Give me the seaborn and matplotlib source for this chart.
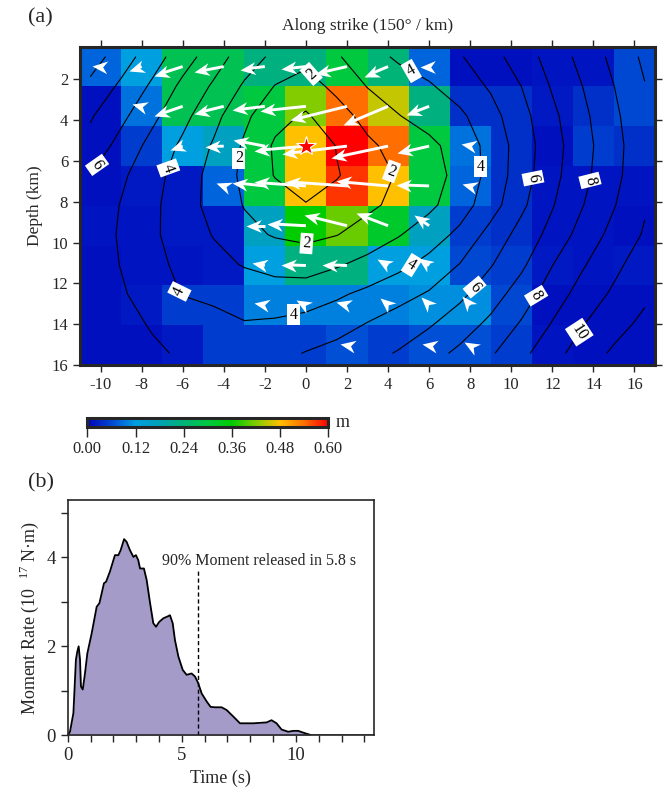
import numpy as np
import matplotlib
matplotlib.use("Agg")
import matplotlib.pyplot as plt
from matplotlib.colors import LinearSegmentedColormap
from matplotlib.ticker import MultipleLocator
from matplotlib.markers import MarkerStyle
from matplotlib.path import Path
from matplotlib.transforms import Affine2D
import seaborn as sns

# subfault grid (2 km along strike, 8 rows down dip)
x_centers = [-10, -8, -6, -4, -2, 0, 2, 4, 6, 8, 10, 12, 14, 16]
depth_top = 0.4
row_height = 1.95

# slip in m, rows from top to bottom
slip = [
    [0.08, 0.12, 0.28, 0.28, 0.23, 0.23, 0.30, 0.24, 0.08, 0.01, 0.01, 0.015, 0.015, 0.06],
    [0.01, 0.09, 0.28, 0.28, 0.30, 0.42, 0.54, 0.45, 0.23, 0.04, 0.04, 0.02, 0.04, 0.06],
    [0.01, 0.05, 0.12, 0.17, 0.30, 0.48, 0.60, 0.54, 0.30, 0.09, 0.04, 0.01, 0.05, 0.04],
    [0.01, 0.02, 0.02, 0.08, 0.30, 0.48, 0.57, 0.48, 0.30, 0.08, 0.04, 0.015, 0.015, 0.015],
    [0.015, 0.015, 0.02, 0.02, 0.17, 0.36, 0.41, 0.32, 0.17, 0.05, 0.04, 0.015, 0.015, 0.01],
    [0.01, 0.015, 0.015, 0.02, 0.12, 0.23, 0.23, 0.12, 0.12, 0.06, 0.05, 0.02, 0.015, 0.02],
    [0.01, 0.02, 0.05, 0.05, 0.10, 0.10, 0.10, 0.10, 0.11, 0.11, 0.06, 0.01, 0.01, 0.01],
    [0.01, 0.01, 0.02, 0.05, 0.05, 0.05, 0.065, 0.05, 0.065, 0.065, 0.05, 0.015, 0.01, 0.01],
]

# rake in degrees (nan = no vector drawn)
nan = np.nan
rake = [
    [175, 198, 198, 191, 187, 186, 193, 203, 180, nan, nan, nan, nan, nan],
    [nan, 165, 199, 194, 187, 186, 194, 203, 201, nan, nan, nan, nan, nan],
    [nan, nan, 199, 182, 169, 185, 187, 192, 193, 170, nan, nan, nan, nan],
    [nan, nan, nan, 160, 174, 176, 176, 175, 178, 165, nan, nan, nan, nan],
    [nan, nan, nan, nan, 180, 177, 166, 159, 145, nan, nan, nan, nan, nan],
    [nan, nan, nan, nan, 170, 178, 178, 150, 145, nan, nan, nan, nan, nan],
    [nan, nan, nan, nan, 170, 150, 165, 140, 135, 130, nan, nan, nan, nan],
    [nan, nan, nan, nan, nan, nan, 170, nan, 170, 150, nan, nan, nan, nan],
]

hypo_x = 0.0
hypo_depth = 5.27

# rupture time (s) on a coarse node grid
t_x = [-10.5, -9, -7.5, -6, -4.5, -3, -1.5, 0, 1.5, 3, 4.5, 6, 7.5, 9, 10.5, 12, 13.5, 15, 16.5]
t_depth = [0.89, 2.34, 3.80, 5.25, 6.71, 8.16, 9.61, 11.07, 12.52, 13.98, 15.43]
rupture_time = [
    [8.5, 7.49, 6.47, 5.45, 4.48, 3.52, 2.77, 2.3, 2.9, 3.58, 4.16, 4.54, 4.92, 5.63, 6.5, 7.41, 8.33, 9.26, 10.2],
    [7.76, 6.82, 5.85, 4.77, 3.87, 2.87, 1.96, 1.6, 2.24, 3.04, 3.47, 3.89, 4.46, 5.12, 6.01, 7.1, 8.02, 8.99, 9.96],
    [7.1, 6.24, 5.24, 4.28, 3.31, 2.21, 1.31, 0.88, 1.59, 2.32, 2.96, 3.39, 3.81, 4.64, 5.66, 6.78, 7.78, 8.79, 9.8],
    [6.66, 5.66, 4.7, 3.82, 2.9, 1.87, 0.87, 0.0, 1.05, 1.82, 2.33, 2.77, 3.4, 4.32, 5.48, 6.62, 7.65, 8.67, 9.68],
    [5.98, 5.18, 4.37, 3.54, 2.67, 1.78, 0.95, 0.52, 0.93, 1.5, 2.09, 2.62, 3.28, 4.32, 5.55, 6.7, 7.74, 8.73, 9.72],
    [5.75, 4.95, 4.22, 3.45, 2.67, 1.95, 1.5, 1.05, 1.42, 1.8, 2.25, 2.79, 3.54, 4.56, 5.8, 6.93, 7.98, 8.94, 9.9],
    [5.6, 4.88, 4.17, 3.55, 2.95, 2.29, 1.91, 1.76, 1.97, 2.42, 2.93, 3.52, 4.23, 5.35, 6.36, 7.33, 8.41, 9.3, 10.1],
    [5.6, 4.96, 4.3, 3.75, 3.3, 2.93, 2.74, 2.55, 2.89, 3.29, 3.74, 4.29, 5.03, 5.93, 6.81, 7.97, 8.91, 9.73, 10.55],
    [5.75, 5.13, 4.5, 3.96, 3.77, 3.58, 3.36, 3.53, 3.85, 4.22, 4.64, 5.1, 5.78, 6.54, 7.47, 8.51, 9.4, 10.17, 10.79],
    [5.85, 5.38, 4.9, 4.62, 4.33, 4.05, 4.15, 4.3, 4.57, 5.04, 5.47, 5.89, 6.5, 7.22, 8.1, 9.06, 9.96, 10.61, 11.25],
    [5.85, 5.45, 5.2, 4.85, 4.6, 4.5, 4.7, 5.05, 5.37, 5.71, 6.07, 6.63, 7.22, 7.88, 8.74, 9.66, 10.45, 11.17, 11.95],
]

# moment rate function
mr_time = [0, 0.1, 0.25, 0.36, 0.42, 0.48, 0.54, 0.58, 0.66, 0.76, 0.86, 1.05, 1.27, 1.39, 1.59, 1.68,
           1.85, 2.07, 2.22, 2.32, 2.47, 2.58, 2.73, 2.88, 2.99, 3.09, 3.17, 3.34, 3.46, 3.61, 3.75, 3.87,
           4.01, 4.19, 4.41, 4.48, 4.6, 4.7, 4.85, 5.04, 5.21, 5.43, 5.58, 5.72, 5.87, 6.09, 6.26, 6.45,
           6.74, 6.96, 7.26, 7.55, 7.84, 8.13, 8.42, 8.72, 8.93, 9.15, 9.37, 9.66, 9.88, 10.1, 10.32,
           10.69, 11.5, 13.42]
mr_rate = [0, 0.08, 0.5, 1.7, 1.88, 2.0, 1.7, 1.1, 1.03, 1.4, 1.84, 2.29, 2.89, 2.97, 3.42, 3.45,
           3.68, 4.05, 4.05, 4.16, 4.41, 4.35, 4.16, 4.01, 4.05, 3.94, 3.75, 3.75, 3.49, 2.97, 2.52, 2.44,
           2.55, 2.63, 2.68, 2.7, 2.52, 2.14, 1.77, 1.47, 1.36, 1.39, 1.32, 1.17, 0.94, 0.76, 0.64, 0.63,
           0.63, 0.57, 0.42, 0.27, 0.27, 0.27, 0.28, 0.29, 0.34, 0.27, 0.13, 0.08, 0.1, 0.1, 0.06,
           0.0, 0.0, 0.0]
t90 = 5.72

sns.set_style("ticks")
plt.rcParams["font.family"] = ["Liberation Serif", "DejaVu Serif"]
plt.rcParams["mathtext.fontset"] = "custom"
plt.rcParams["mathtext.rm"] = "Liberation Serif"
plt.rcParams["axes.unicode_minus"] = False

cmap = LinearSegmentedColormap.from_list("slip", [
    (0.0, "#0008b0"), (0.0167, "#0010c0"), (0.067, "#0030c8"), (0.133, "#0064dc"),
    (0.2, "#00a0e0"), (0.283, "#00a0c0"), (0.383, "#00b080"), (0.5, "#00c840"),
    (0.6, "#00cc00"), (0.7, "#80cc00"), (0.8, "#ffc000"), (0.9, "#ff7000"), (1.0, "#ff0000")])

fig = plt.figure(figsize=(6.65, 7.91), dpi=100)

# ---- (a) slip map ----
ax = fig.add_axes([0.1203, 0.5386, 0.8647, 0.4024])
x_edges = np.arange(-11, 18, 2)
d_edges = depth_top + row_height * np.arange(len(slip) + 1)
mesh = ax.pcolormesh(x_edges, d_edges, np.array(slip), cmap=cmap, vmin=0, vmax=0.6, shading="flat")

# odd seconds unlabeled, even seconds labeled
ax.contour(t_x, t_depth, np.array(rupture_time), levels=[1, 3, 5, 7, 9, 11],
           colors="k", linewidths=0.8, zorder=2)
cs = ax.contour(t_x, t_depth, np.array(rupture_time), levels=[2, 4, 6, 8, 10],
                colors="k", linewidths=0.8, zorder=2)
label_pos = [(0.21, 1.79), (-3.33, 5.87), (4.13, 6.53), (0.05, 10.12),
             (5.11, 1.63), (-6.65, 6.36), (8.63, 6.28), (5.2, 11.19), (-6.32, 12.46), (-0.6, 13.55),
             (-10.16, 6.2), (11.08, 6.85), (8.3, 12.25),
             (13.77, 6.94), (11.16, 12.57), (13.28, 14.37)]
labels = ax.clabel(cs, manual=label_pos, fmt="%d", fontsize=11.5, inline=True, inline_spacing=3)
# a few labels stand upright in the original
fixed_rot = {1: 0, 2: -20, 6: 0, 9: 0}
for k, t in enumerate(labels):
    if k in fixed_rot:
        t.set_rotation(fixed_rot[k])
    t.set_bbox(dict(boxstyle="square,pad=0.15", fc="white", ec="none"))

# slip vectors: white shaft + notched head of fixed size
head_path = Path([(0, 0), (-1, 0.42), (-0.7, 0), (-1, -0.42), (0, 0)],
                 [Path.MOVETO, Path.LINETO, Path.LINETO, Path.LINETO, Path.CLOSEPOLY])
head_ms = 22
head_km = 0.74
arrow_scale = 5.3  # km per m of slip
for i in range(len(slip)):
    for j in range(len(x_centers)):
        r = rake[i][j]
        if np.isnan(r):
            continue
        x0 = x_centers[j]
        d0 = depth_top + row_height * (i + 0.5)
        L = slip[i][j] * arrow_scale
        ux, ud = np.cos(np.radians(r)), -np.sin(np.radians(r))
        x1, d1 = x0 + L * ux, d0 + L * ud
        ls = L - 0.6 * head_km
        if ls > 0:
            ax.plot([x0, x0 + ls * ux], [d0, d0 + ls * ud], color="white", lw=2.1,
                    solid_capstyle="butt", zorder=4)
        m = MarkerStyle(head_path, transform=Affine2D().rotate_deg(r))
        ax.plot(x1, d1, marker=m, ms=head_ms, mfc="white", mec="white", mew=0, zorder=4)

ax.plot(hypo_x, hypo_depth, marker="*", ms=15, mfc="red", mec="white", mew=0.8, zorder=5)

ax.set_xlim(-11, 17)
ax.set_ylim(16, 0.4)
ax.set_xticks(range(-10, 17, 2))
ax.set_yticks(range(2, 17, 2))
ax.xaxis.set_label_position("top")
ax.set_xlabel("Along strike (150° / km)", fontsize=12.5, labelpad=7)
ax.set_ylabel("Depth (km)", fontsize=12.5, labelpad=6)
ax.tick_params(direction="out", top=True, right=True, labeltop=False, labelright=False,
               length=5, width=1, labelsize=12)
for s in ax.spines.values():
    s.set_linewidth(2.2)

# colorbar
cax = fig.add_axes([0.1313, 0.4606, 0.3624, 0.0114])
cb = fig.colorbar(mesh, cax=cax, orientation="horizontal", ticks=[0, 0.12, 0.24, 0.36, 0.48, 0.6])
cb.ax.set_xticklabels(["0.00", "0.12", "0.24", "0.36", "0.48", "0.60"])
cb.outline.set_linewidth(2.2)
cax.tick_params(direction="out", length=7, width=1, labelsize=12)
cax.text(1.03, 0.5, "m", transform=cax.transAxes, va="center", ha="left", fontsize=13)

# ---- (b) moment rate ----
ax2 = fig.add_axes([0.1018, 0.0704, 0.4606, 0.2975])
ax2.fill_between(mr_time, mr_rate, color="#a59bc9", lw=0)
sns.lineplot(x=mr_time, y=mr_rate, ax=ax2, color="k", lw=1.3, estimator=None, sort=False)
ax2.vlines(t90, 0, 3.7, colors="k", linestyles=(0, (3, 2)), lw=1)
ax2.text(4.13, 3.92, "90% Moment released in 5.8 s", fontsize=11.5, va="center", ha="left")
ax2.set_xlim(0, 13.42)
ax2.set_ylim(0, 5.29)
ax2.set_xticks([0, 5, 10])
ax2.set_yticks([0, 2, 4])
ax2.xaxis.set_minor_locator(MultipleLocator(1))
ax2.yaxis.set_minor_locator(MultipleLocator(1))
ax2.tick_params(which="both", direction="out", length=5, width=1, labelsize=13.5)
ax2.set_xlabel("Time (s)", fontsize=13)
ax2.set_ylabel("Moment Rate (10  ${}^{17}$ N·m)", fontsize=13)
for s in ax2.spines.values():
    s.set_linewidth(1.2)

fig.text(28 / 665, 1 - 18 / 791, "(a)", fontsize=16, va="center")
fig.text(28 / 665, 1 - 483 / 791, "(b)", fontsize=16, va="center")

fig.savefig("out.png", dpi=100)
